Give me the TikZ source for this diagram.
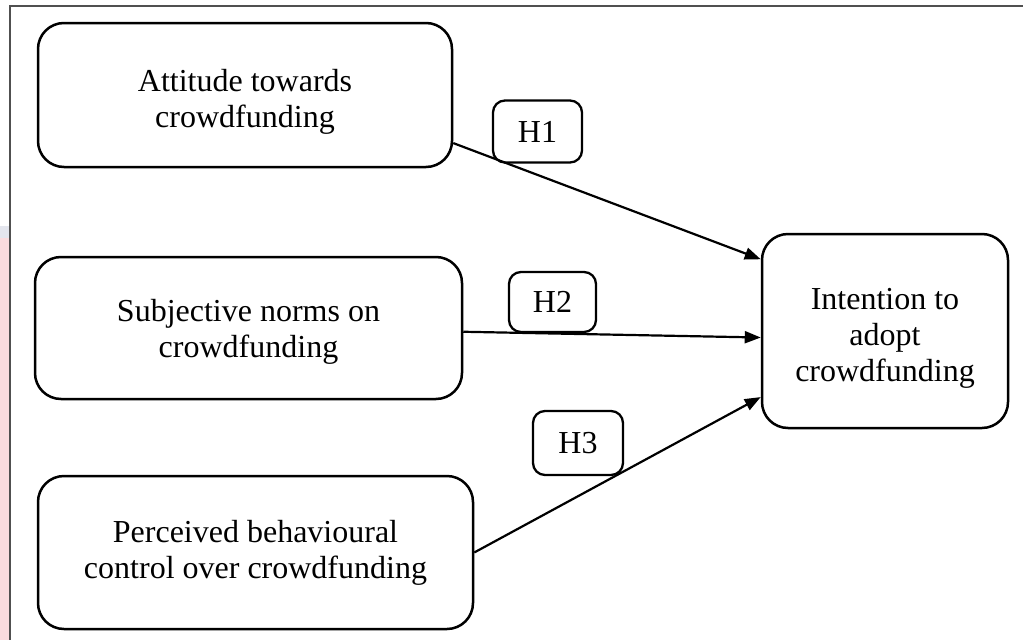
\documentclass[tikz,border=0pt]{standalone}
\usepackage{fontspec}
\setmainfont{Liberation Serif}
\usetikzlibrary{arrows.meta}
\definecolor{framegray}{HTML}{505050}
\definecolor{pagepink}{HTML}{FADCDF}
\definecolor{pageblue}{HTML}{E4E6EE}
\newcommand{\topgap}[1]{\rule{0pt}{#1pt}}

\begin{document}
\begin{tikzpicture}[x=1pt,y=-1pt,
  construct/.style={draw,line width=2.5pt,rounded corners=26pt,align=center,
    font=\fontsize{32}{36}\selectfont,inner sep=0pt},
  hyp/.style={draw,line width=2.3pt,rounded corners=12pt,align=center,
    font=\fontsize{32}{36}\selectfont,inner sep=0pt},
  arrow/.style={-{Triangle[length=16pt,width=12pt]},line width=2.2pt}
]
\useasboundingbox (0,0) rectangle (1023,640);
\clip (0,0) rectangle (1023,640);
% page background and outer frame
\fill[pageblue] (0,226) rectangle (9,240);
\fill[pagepink] (0,238) rectangle (9,640);
\draw[framegray,line width=2.2pt] (10,660) -- (10,6) -- (1040,6);
% constructs
\node[construct,minimum width=414pt,minimum height=144pt] (att) at (245,95)
  {\topgap{35}Attitude towards\\crowdfunding};
\node[construct,minimum width=427pt,minimum height=142pt] (subj) at (248.5,328)
  {\topgap{30}Subjective norms on\\crowdfunding};
\node[construct,minimum width=435pt,minimum height=153pt] (perc) at (255.5,552.5)
  {Perceived behavioural\\control over crowdfunding};
\node[construct,minimum width=246pt,minimum height=194pt] (int) at (885,331)
  {\topgap{35}Intention to\\adopt\\crowdfunding};
% hypotheses
\node[hyp,minimum width=89pt,minimum height=62pt] (h1) at (537.5,131.5) {H1};
\node[hyp,minimum width=87pt,minimum height=60pt] (h2) at (552.5,302) {H2};
\node[hyp,minimum width=90pt,minimum height=64pt] (h3) at (578,443) {H3};
% paths
\draw[arrow] (att.-13.6) -- (int.150.7);
\draw[arrow] (subj.-1) -- (int.183);
\draw[arrow] (perc.east) -- (int.208);
\end{tikzpicture}
\end{document}
